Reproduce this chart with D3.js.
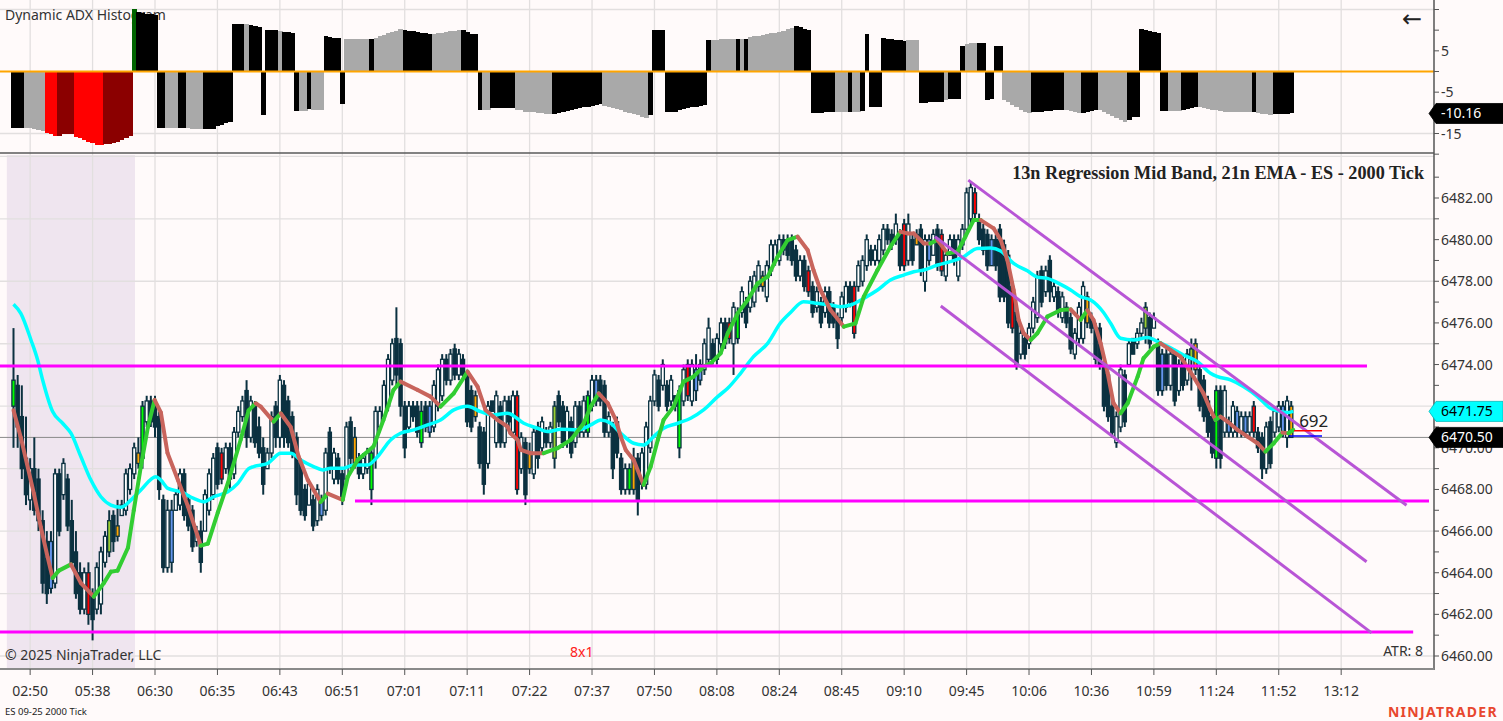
<!DOCTYPE html>
<html><head><meta charset="utf-8">
<script src="https://cdn.jsdelivr.net/npm/d3@7"></script>
<style>
html,body{margin:0;padding:0;background:#fffafa;overflow:hidden}
svg{display:block}
text{font-family:"Noto Sans","Open Sans",sans-serif}
</style></head><body>
<svg id="chart" width="1503" height="721"></svg>
<script>
// ---------------- DATA ----------------
const highs = [
6475.75,6473.5,6473.0,6471.5,6469.5,6470.5,6469.0,6467.0,6466.0,6466.0,
6469.0,6469.0,6469.5,6468.75,6467.5,6466.0,6464.5,6464.25,6464.5,6463.25,
6464.5,6465.25,6466.0,6467.0,6467.0,6467.5,6467.5,6469.0,6469.25,6470.25,
6470.5,6472.25,6472.5,6472.5,6472.5,6471.75,6467.75,6467.5,6467.5,6468.0,
6469.0,6469.0,6467.75,6467.25,6466.25,6466.5,6468.0,6469.0,6469.75,6470.25,
6470.0,6470.25,6470.25,6471.0,6472.0,6472.5,6473.25,6472.5,6472.25,6471.5,
6470.5,6470.0,6471.75,6472.25,6473.5,6473.25,6472.5,6471.75,6470.75,6469.5,
6468.25,6468.5,6467.75,6468.25,6467.75,6470.0,6471.0,6470.0,6469.75,6469.0,
6471.25,6471.5,6471.0,6469.75,6469.75,6470.0,6470.0,6472.0,6472.0,6473.25,
6474.5,6475.25,6476.75,6475.25,6472.25,6472.25,6472.25,6472.25,6472.25,6472.25,
6472.25,6473.25,6474.0,6474.5,6474.5,6474.75,6475.0,6474.75,6474.5,6473.75,
6473.0,6472.75,6471.25,6471.0,6472.25,6472.25,6472.75,6472.25,6472.5,6472.5,
6472.75,6472.75,6470.75,6470.5,6470.25,6471.0,6471.25,6471.5,6471.0,6471.25,
6472.25,6472.75,6472.25,6472.0,6471.5,6472.25,6472.25,6472.5,6472.75,6473.5,
6473.5,6473.5,6473.25,6471.75,6471.25,6471.5,6469.75,6469.25,6469.25,6470.0,
6469.75,6470.0,6471.25,6472.5,6473.75,6473.5,6474.25,6473.25,6473.5,6472.5,
6473.0,6474.0,6474.25,6474.25,6474.5,6474.25,6475.25,6476.25,6475.25,6475.5,
6476.25,6476.25,6476.25,6477.0,6476.75,6477.75,6477.25,6478.25,6478.5,6479.0,
6478.5,6479.0,6480.0,6480.0,6480.25,6480.25,6480.25,6480.25,6479.75,6479.25,
6479.25,6478.75,6478.0,6477.75,6477.25,6477.75,6477.75,6477.0,6476.5,6477.5,
6478.0,6478.0,6478.0,6479.0,6479.25,6480.25,6479.75,6479.75,6480.25,6480.75,
6480.75,6480.5,6481.25,6480.5,6481.0,6481.25,6480.25,6480.5,6480.75,6480.25,
6480.25,6480.5,6480.75,6480.5,6479.5,6480.25,6480.25,6480.25,6480.75,6482.5,
6482.75,6482.5,6481.25,6480.75,6480.5,6480.25,6480.25,6480.75,6480.0,6479.5,
6478.0,6476.75,6475.75,6475.5,6476.0,6477.25,6478.5,6478.75,6478.75,6479.25,
6478.0,6477.75,6477.5,6477.0,6476.5,6475.75,6477.0,6478.0,6477.5,6476.5,
6476.0,6476.0,6474.25,6473.75,6472.25,6471.75,6474.0,6473.75,6475.25,6475.25,
6475.75,6476.25,6477.0,6476.5,6476.5,6475.25,6474.75,6474.75,6474.75,6474.75,
6474.25,6474.5,6474.75,6475.25,6475.25,6474.0,6473.5,6472.5,6471.75,6473.0,
6473.0,6473.0,6471.5,6472.25,6472.0,6471.75,6471.75,6471.75,6472.25,6471.0,
6470.75,6471.25,6471.5,6472.0,6472.25,6472.25,6472.5,6472.25];
const lows = [
6470.0,6470.0,6468.5,6467.25,6467.0,6466.75,6466.0,6463.0,6462.5,6463.0,
6463.25,6465.75,6467.5,6466.0,6464.25,6462.75,6462.0,6462.0,6461.5,6460.75,
6462.0,6462.0,6464.25,6464.75,6465.0,6465.5,6466.75,6466.75,6467.75,6468.5,
6469.0,6469.0,6471.0,6471.0,6470.5,6467.5,6464.0,6464.0,6464.0,6467.0,
6467.0,6466.5,6466.0,6465.0,6465.25,6464.0,6466.0,6466.75,6467.5,6468.0,
6468.25,6468.75,6468.0,6468.5,6470.5,6471.25,6470.0,6470.25,6470.0,6469.5,
6467.75,6469.0,6469.5,6470.0,6470.0,6470.0,6470.0,6469.5,6467.25,6466.75,
6466.5,6467.25,6466.0,6466.25,6466.5,6466.75,6468.75,6468.25,6468.25,6467.25,
6468.25,6469.0,6469.0,6468.5,6468.5,6468.75,6467.25,6469.0,6470.75,6471.25,
6471.75,6473.0,6473.0,6471.5,6469.5,6470.75,6471.25,6470.5,6470.0,6470.75,
6470.5,6470.75,6471.75,6472.25,6473.0,6473.0,6473.25,6473.25,6473.25,6471.0,
6470.75,6471.25,6469.0,6467.75,6469.0,6471.75,6470.0,6470.0,6470.0,6471.0,
6470.5,6467.75,6468.75,6467.25,6468.75,6468.5,6469.0,6469.75,6470.0,6470.0,
6469.0,6471.0,6470.0,6470.0,6469.5,6470.0,6470.5,6470.5,6470.5,6471.75,
6472.0,6472.0,6470.5,6470.5,6468.5,6469.5,6467.75,6467.75,6467.75,6467.75,
6466.75,6468.0,6468.0,6469.75,6472.0,6471.75,6472.75,6471.75,6472.0,6471.75,
6469.5,6472.0,6472.25,6472.0,6472.25,6473.0,6473.5,6474.0,6474.0,6474.0,
6474.75,6474.75,6475.0,6473.5,6475.0,6476.25,6475.75,6476.5,6476.75,6477.5,
6477.5,6477.0,6478.25,6478.75,6478.75,6479.25,6479.0,6478.75,6478.0,6478.0,
6477.5,6477.25,6476.25,6476.5,6475.75,6476.25,6475.75,6475.75,6474.75,6476.0,
6476.5,6476.75,6475.25,6477.5,6477.75,6478.5,6478.75,6478.75,6478.75,6479.25,
6479.75,6479.5,6479.75,6478.5,6478.5,6478.75,6478.75,6479.75,6478.25,6477.5,
6478.75,6479.25,6478.5,6478.25,6478.0,6479.25,6478.75,6478.0,6479.5,6480.25,
6480.75,6481.0,6479.75,6479.25,6478.5,6478.75,6478.5,6477.0,6477.0,6475.75,
6475.5,6473.75,6474.25,6474.25,6474.75,6475.5,6476.0,6476.75,6477.25,6477.0,
6477.0,6476.25,6476.0,6475.75,6474.5,6474.25,6475.0,6475.0,6475.75,6475.5,
6474.0,6473.75,6471.75,6471.25,6470.5,6470.0,6470.75,6471.0,6474.0,6474.5,
6474.75,6475.25,6475.0,6474.75,6475.75,6472.5,6472.5,6472.75,6472.75,6472.0,
6472.5,6472.75,6473.0,6472.75,6473.5,6471.75,6471.25,6470.5,6469.5,6469.0,
6469.0,6470.5,6470.5,6470.5,6470.5,6470.5,6470.5,6470.5,6470.5,6469.75,
6468.5,6468.75,6469.0,6470.5,6470.75,6470.5,6470.0,6470.5];
const opens = [
6472.0,6473.0,6471.5,6469.5,6467.5,6469.0,6468.5,6466.5,6465.5,6463.25,
6463.5,6468.75,6467.75,6468.5,6466.5,6465.0,6464.0,6462.25,6464.0,6463.0,
6462.25,6462.5,6464.5,6465.0,6466.75,6465.75,6466.75,6467.0,6468.0,6468.75,
6469.25,6469.5,6471.25,6472.25,6472.0,6471.5,6467.5,6464.25,6467.0,6467.0,
6467.25,6468.75,6467.5,6467.0,6465.5,6466.0,6466.0,6467.0,6467.75,6470.0,
6469.75,6469.0,6470.0,6468.75,6470.75,6471.5,6472.75,6470.5,6472.0,6471.0,
6470.0,6469.0,6469.75,6472.0,6470.5,6473.0,6472.25,6471.5,6470.5,6469.25,
6468.0,6467.25,6467.5,6466.5,6467.5,6467.0,6470.75,6468.5,6469.5,6468.75,
6468.5,6471.25,6469.25,6469.5,6468.75,6469.0,6468.0,6469.5,6471.0,6471.5,
6472.0,6473.25,6475.25,6475.0,6472.0,6471.0,6472.0,6472.0,6470.25,6472.0,
6470.75,6471.0,6472.0,6472.5,6474.25,6473.25,6474.75,6473.5,6474.25,6473.5,
6472.75,6471.5,6471.0,6470.75,6469.25,6472.25,6470.25,6472.0,6470.25,6472.25,
6470.75,6472.5,6469.0,6470.25,6469.0,6468.75,6471.0,6470.0,6470.75,6470.25,
6469.5,6472.5,6472.0,6470.25,6471.25,6470.25,6472.0,6470.75,6470.75,6472.0,
6473.25,6473.25,6473.0,6470.75,6471.0,6471.25,6469.5,6468.0,6468.0,6468.0,
6469.5,6468.25,6468.25,6470.0,6472.25,6473.25,6473.0,6473.0,6472.25,6472.5,
6470.0,6472.25,6474.0,6472.25,6473.75,6473.25,6473.75,6474.25,6475.0,6474.25,
6475.0,6476.0,6476.0,6475.0,6475.25,6476.5,6477.0,6476.75,6477.0,6477.75,
6477.75,6477.25,6478.5,6479.0,6479.0,6480.0,6480.0,6480.0,6479.5,6478.25,
6479.0,6478.5,6477.75,6476.75,6477.0,6476.5,6477.5,6476.75,6476.25,6476.25,
6476.75,6477.75,6477.75,6477.75,6478.0,6478.75,6479.5,6479.0,6479.0,6479.5,
6480.5,6480.25,6480.0,6480.25,6480.75,6479.0,6480.0,6479.75,6480.5,6478.0,
6480.0,6479.25,6480.5,6480.25,6478.25,6479.25,6480.0,6478.25,6479.75,6480.5,
6481.0,6482.25,6481.0,6480.5,6480.25,6478.75,6480.0,6480.5,6479.75,6479.25,
6477.75,6476.5,6474.5,6475.25,6475.0,6475.75,6476.25,6478.5,6477.5,6479.0,
6477.25,6477.5,6476.25,6476.75,6476.25,6474.5,6475.25,6475.25,6477.25,6476.25,
6475.75,6475.75,6474.0,6473.5,6472.0,6470.25,6471.0,6473.5,6474.0,6475.25,
6475.0,6475.5,6475.75,6476.25,6475.75,6475.0,6472.75,6474.5,6473.0,6474.5,
6472.75,6474.25,6473.25,6474.25,6475.0,6473.75,6473.25,6472.25,6471.5,6469.5,
6472.75,6470.75,6471.25,6470.75,6471.75,6470.75,6471.5,6470.75,6472.0,6470.75,
6470.5,6469.0,6471.25,6470.75,6471.0,6472.0,6470.5,6472.0];
const closes = [
6473.25,6471.0,6469.0,6467.75,6469.0,6467.0,6466.5,6463.5,6463.0,6465.5,
6468.75,6466.0,6469.25,6466.25,6464.5,6463.0,6462.25,6464.0,6462.0,6461.75,
6464.25,6465.0,6465.75,6466.5,6465.5,6466.25,6467.25,6468.75,6469.0,6470.0,
6469.75,6472.0,6472.25,6471.25,6471.0,6468.0,6464.25,6467.0,6464.5,6467.75,
6468.75,6466.75,6466.25,6465.25,6466.0,6464.5,6467.75,6468.75,6469.5,6468.25,
6468.5,6470.0,6468.5,6470.75,6471.75,6472.25,6470.5,6472.25,6470.25,6469.75,
6468.25,6469.75,6471.5,6470.5,6473.25,6470.5,6470.25,6469.75,6467.75,6467.0,
6466.75,6468.25,6466.25,6468.0,6466.75,6469.75,6469.0,6469.75,6468.5,6467.5,
6471.0,6469.5,6470.5,6468.75,6469.5,6469.75,6469.75,6471.75,6471.75,6473.0,
6474.25,6475.0,6473.5,6472.0,6470.0,6472.0,6471.5,6470.75,6471.75,6471.0,
6472.0,6473.0,6473.75,6474.25,6473.25,6474.5,6473.5,6474.5,6473.5,6471.25,
6471.0,6472.5,6469.25,6468.25,6472.0,6471.75,6472.5,6470.25,6472.25,6471.25,
6472.5,6468.0,6470.5,6467.75,6469.75,6470.75,6469.5,6471.25,6470.25,6471.0,
6472.0,6471.25,6470.25,6471.75,6469.75,6472.0,6470.75,6472.25,6472.5,6473.25,
6472.25,6472.25,6470.75,6471.5,6469.0,6469.75,6468.0,6469.0,6469.0,6469.5,
6467.5,6469.75,6471.0,6472.25,6473.5,6472.0,6474.0,6472.0,6473.25,6472.0,
6472.75,6473.75,6472.5,6474.0,6472.75,6474.0,6475.0,6475.75,6474.25,6475.25,
6476.0,6475.0,6475.25,6476.75,6476.5,6477.5,6476.0,6478.0,6478.25,6478.75,
6478.25,6478.75,6479.75,6479.75,6480.0,6479.5,6479.25,6479.0,6478.25,6479.0,
6477.75,6477.5,6476.5,6477.5,6476.0,6477.5,6476.0,6476.0,6475.25,6477.25,
6477.75,6477.0,6475.5,6478.75,6479.0,6480.0,6479.0,6479.5,6480.0,6480.5,
6480.0,6479.75,6480.75,6478.75,6478.75,6480.75,6479.0,6480.25,6478.5,6480.0,
6479.0,6480.25,6478.75,6478.5,6479.25,6480.0,6479.0,6480.0,6480.5,6482.25,
6482.5,6481.25,6480.0,6479.5,6478.75,6480.0,6478.75,6477.25,6477.25,6476.0,
6475.75,6474.0,6475.5,6474.5,6475.75,6477.0,6478.25,6477.0,6478.5,6477.5,
6477.75,6476.5,6477.25,6476.0,6474.75,6475.5,6476.75,6477.75,6476.0,6475.75,
6474.25,6474.0,6472.0,6471.5,6470.75,6471.5,6473.75,6471.25,6475.0,6474.5,
6475.5,6476.0,6476.75,6475.0,6476.25,6472.75,6474.5,6473.0,6474.5,6472.25,
6474.0,6473.0,6474.5,6474.75,6473.75,6472.0,6471.5,6470.75,6469.75,6472.75,
6469.5,6472.75,6470.75,6472.0,6470.75,6471.5,6470.75,6471.5,6470.75,6470.0,
6469.0,6471.0,6469.25,6471.75,6472.0,6470.75,6472.25,6470.5];

// painted candle bodies (bar index, colour key)
const paintBars = [0,9,18,23,25,30,31,38,50,74,82,86,98,100,111,121,124,130,138,140,148,149,160,162,164,165,172,174,180,191,202,214,217,220,223,231,235,240,258,272,276,283,284,289,292,294,296,298,305,307];
const paintKeys = ["L","B","R","Y","O","O","L","B","R","B","O","L","L","B","O","R","O","Y","L","B","L","O","L","R","B","B","R","L","O","R","R","R","O","B","R","R","B","R","O","Y","B","Y","O","L","B","B","B","R","B","O"];

// 13n regression mid band (knots: bar, value)
const regBars = [0,1.75,4.9,6.55,8.2,9.4,10.9,13.8,16.2,19.3,21.7,23.4,25,27.5,28.9,30.6,32.3,33.9,35.4,37,39.5,41.9,45,46.7,49.1,51.5,54.6,56.5,58.2,59.4,62.5,64.2,66.6,68.5,70.7,73.8,75.5,79.1,80.3,82.7,86.5,88.9,91.3,93,97.1,100.2,102.6,105.8,109.1,111.5,113.4,116.3,118.7,119.4,121.1,121.9,124.3,127.4,130.7,133.9,137,138.7,140.6,142.8,144.7,145.9,147.1,149,151.4,153.1,154.8,156.2,158.6,161,163.4,165.8,167.5,169.9,171.6,174,176.4,178.8,181.2,183.6,186,188.4,190.8,192.2,193.9,196.3,199.5,202.3,204.3,207.6,210.7,213.1,214.8,216.3,218.7,220.3,222,224.4,226.8,228.7,230.7,232.4,235.5,237.2,238.8,240.3,241.5,242.7,244.4,246,248.4,251.6,254,256.4,258,259.5,261.2,262.9,264.3,266,267.7,270.1,271.5,274,275.6,278,280.4,283.5,285.9,287.6,288.8,290,291.7,294.1,296.5,298.9,300.8,302.8,304.9,306.3,307.5];
const regVals = [6471.8,6470.5,6467.8,6466.2,6464.75,6463.75,6464.1,6464.4,6463.5,6462.85,6463.5,6464.05,6464.1,6465.2,6467.0,6469.1,6471.0,6472.3,6471.7,6469.75,6468.45,6467.2,6465.3,6465.4,6466.9,6468.3,6470.4,6471.8,6472.14,6471.98,6471.26,6471.66,6471.0,6469.58,6468.46,6467.4,6467.8,6467.5,6468.6,6469.42,6470.06,6471.34,6472.78,6473.18,6472.78,6472.46,6471.98,6472.62,6473.66,6472.94,6471.82,6471.34,6471.02,6470.7,6470.38,6469.9,6469.74,6469.74,6469.98,6470.38,6471.18,6471.98,6472.62,6472.14,6471.34,6470.54,6469.9,6469.42,6468.22,6469.1,6470.38,6471.34,6471.98,6473.18,6473.42,6473.9,6474.06,6474.54,6475.5,6476.46,6477.1,6477.9,6478.22,6479.18,6479.98,6480.14,6479.5,6478.54,6477.58,6476.62,6475.82,6475.98,6477.26,6478.54,6479.66,6480.38,6480.3,6480.3,6479.82,6479.82,6479.98,6479.34,6479.42,6480.14,6480.94,6480.94,6480.54,6479.98,6479.02,6477.58,6476.14,6475.5,6475.18,6475.5,6476.3,6476.62,6476.65,6476.14,6476.62,6476.14,6475.02,6473.58,6472.14,6471.66,6472.14,6473.42,6474.3,6474.86,6475.02,6474.7,6474.38,6473.42,6472.62,6471.82,6471.34,6471.5,6471.26,6470.86,6470.54,6470.22,6469.82,6470.22,6470.73,6470.7,6470.86];

// 21n EMA (knots: bar, value)
const emaBars = [0,1.75,4.2,5.8,7.0,9.4,11.8,13.8,16.2,18.6,21.0,23.4,25.8,28.2,30.6,34.2,35.4,37.1,40.2,43.3,45.7,48.1,51.5,53.9,56.5,57.7,61.1,64.2,66.6,69.0,72.1,74.3,76.2,79.3,81.7,85.1,87.5,90.6,93.0,96.2,99.5,102.6,105.8,109.1,112.2,115.4,118.7,122.6,125.9,128.3,131.5,135.5,138.7,141.1,143.5,145.9,149.0,151.4,153.8,156.2,159.6,162.7,165.8,169.2,171.6,174.7,177.8,181.2,184.3,186.7,189.8,193.2,196.3,198.7,201.1,204.3,207.6,210.7,213.9,216.3,218.7,222.0,225.1,228.3,231.6,234.8,237.2,240.3,243.6,246.0,248.4,251.6,254.0,256.4,258.8,261.9,263.6,266.0,269.1,272.5,274.9,278.0,281.1,284.5,287.6,289.3,292.4,295.5,298.9,302.0,304.4,306.3,307.5];
const emaVals = [6476.9,6476.46,6475.18,6474.22,6473.26,6471.74,6471.18,6470.7,6469.57,6468.45,6467.65,6467.25,6467.14,6467.49,6467.97,6468.61,6468.45,6468.05,6467.89,6467.57,6467.41,6467.65,6467.89,6468.29,6469.0,6469.1,6469.26,6469.74,6469.74,6469.42,6469.1,6468.94,6469.02,6469.02,6469.18,6469.18,6469.58,6470.38,6470.7,6470.86,6471.1,6471.34,6471.82,6472.0,6471.74,6471.58,6471.66,6471.18,6470.94,6470.78,6470.89,6470.86,6471.1,6471.34,6471.18,6470.7,6470.22,6470.14,6470.54,6470.94,6471.18,6471.42,6471.82,6472.46,6472.86,6473.58,6474.38,6475.02,6476.0,6476.5,6477.02,6476.94,6476.86,6476.78,6476.86,6477.18,6477.58,6478.06,6478.3,6478.46,6478.54,6478.78,6478.94,6479.18,6479.58,6479.6,6479.45,6478.86,6478.5,6478.2,6478.14,6477.85,6477.58,6477.26,6477.1,6476.5,6475.98,6475.26,6475.18,6475.3,6475.1,6474.8,6474.46,6474.14,6473.58,6473.42,6473.26,6472.94,6472.46,6471.9,6471.74,6471.7,6471.75];

// Dynamic ADX histogram (one value per bar) and colour keys
const histVals = [
-13.6,-13.6,-13.6,-13.6,-13.7,-13.9,-14.2,-14.5,-14.8,-15.2,
-15.7,-15.7,-15.2,-15.2,-15.2,-15.8,-16.2,-16.6,-17.0,-17.4,
-17.8,-17.8,-17.6,-17.6,-17.4,-17.0,-16.6,-16.2,-15.7,15.2,
14.4,14.2,14.0,13.8,13.6,-13.6,-13.6,-13.6,-13.6,-13.6,
-13.6,-13.6,-13.7,-13.8,-13.8,-13.8,-13.9,-13.9,-13.9,-13.3,
-12.9,-12.5,-12.1,11.6,11.6,11.6,11.4,11.2,11.0,10.7,
-10.6,10.0,10.0,10.0,9.8,9.6,9.5,9.4,-9.45,-9.45,
-9.45,-9.1,-9.3,-9.3,-9.3,8.6,8.4,8.2,8.0,-7.9,
7.8,7.8,7.8,7.8,7.8,7.8,7.8,8.2,8.5,8.8,
9.2,9.5,9.9,10.2,10.0,9.9,9.8,9.6,9.4,9.3,
9.1,9.1,9.2,9.4,9.5,9.7,9.8,10.0,10.0,9.6,
9.1,9.1,-9.4,-9.3,-9.3,-8.9,-8.9,-8.9,-8.9,-8.9,
-8.9,-9.3,-9.3,-9.7,-9.8,-9.9,-10.0,-10.1,-10.2,-10.3,
-10.3,-10.1,-9.8,-9.5,-9.3,-9.0,-8.8,-8.7,-8.5,-8.3,
-8.1,-7.9,-8.3,-8.6,-8.9,-9.1,-9.4,-9.7,-10.0,-10.3,
-10.6,-10.9,-11.2,-10.6,10.0,10.0,10.0,-9.9,-9.9,-9.9,
-9.3,-9.1,-8.9,-8.7,-8.5,-8.3,-8.1,7.6,7.6,7.7,
7.8,7.9,7.9,7.9,7.9,7.9,7.9,8.3,8.5,8.7,
8.8,9.0,9.2,9.4,9.6,9.8,10.2,10.6,10.9,10.7,
10.4,10.0,-10.1,-10.1,-10.1,-9.7,-9.7,-9.7,-9.9,-9.9,
-9.9,-9.7,-9.8,-9.8,-9.5,9.0,-8.7,-8.7,-8.6,8.0,
7.9,7.8,7.7,7.6,7.5,7.6,7.6,7.6,-7.5,-7.5,
-7.3,-7.3,-7.3,-7.3,-7.0,-6.75,-6.75,-6.75,6.2,6.6,
6.8,7.0,7.0,7.0,-6.8,-6.6,6.2,6.2,-6.9,-7.4,
-8.0,-8.6,-9.2,-9.8,-10.0,-9.9,-9.8,-9.7,-9.6,-9.5,
-9.4,-9.3,-9.3,-9.3,-9.6,-9.8,-10.1,-10.1,-9.8,-9.5,
-9.3,-9.3,-9.8,-10.3,-10.8,-11.3,-11.8,-12.1,-11.7,-11.1,
-11.1,10.2,10.0,9.8,9.6,9.4,-9.5,-9.5,-9.5,-9.5,
-9.5,-9.2,-9.0,-8.8,-8.6,-8.6,-8.8,-9.0,-9.2,-9.4,
-9.5,-9.7,-9.9,-9.9,-9.9,-9.9,-9.9,-9.9,-9.9,-10.0,
-10.2,-10.4,-10.5,-10.3,-10.3,-10.3,-10.2,-10.16];
const histKeys = ("kkkgggggrr"+"rddddrrrrr"+"rrdddddddG"+"kkkkkkkggg"+"kkggggkkkk"+
  "kkkkkkgkkk"+"kkkkgkkkkg"+"gkgggkkkkk"+"ggggggkggg"+"ggggkkkkkk"+
  "kgggggggkk"+"kkkggkkkkk"+"kggggggggg"+"kkkkkkkkkk"+"kkgggggggg"+
  "gggkkkkkkk"+"kkkkkkkkgg"+"ggggkgkggg"+"ggggggggkk"+"kkkkkkkkgg"+
  "gkggkkkkkk"+"kkkkkgggkk"+"kkkkgkkkkg"+"ggkkkkkkgg"+"gggggkkkkk"+
  "kkkggggkkk"+"kgggggggkk"+"kkkkkkkkgg"+"gkkkkggggg"+"ggggggggkg"+
  "gggkkkkk").split("");

// time axis labels (every 15 bars starting at bar 4)
const timeLabels = ["02:50","05:38","06:30","06:35","06:43","06:51","07:01","07:11","07:22","07:37","07:50","08:08","08:24","08:45","09:10","09:45","10:06","10:36","10:59","11:24","11:52","13:12"];
const timeLabelFirstBar = 4, timeLabelStep = 15;

// horizontal drawing levels (price, from bar, to bar)
const levelPrices = [6473.93, 6467.45, 6461.15];
const levelFrom = [-4, 82.05, -4];
const levelTo = [325.2, 340.1, 336.3];

// regression channel lines (start bar, start price, end bar, end price)
const chanFromBar = [229.4, 221.4, 222.8];
const chanFromPrice = [6482.86, 6480.14, 6476.81];
const chanToBar = [334.7, 325.1, 326.3];
const chanToPrice = [6467.24, 6464.53, 6461.11];

// session shading (bars)
const sessionFrom = -1.6, sessionTo = 29.2;

const lastPrice = 6470.50, emaLast = 6471.75, histLast = -10.16;
const priceTicks = d3.range(6460, 6484, 1);
const priceLabels = [6460, 6462, 6464, 6466, 6468, 6470, 6474, 6476, 6478, 6480, 6482]; // 6472 sits under the EMA marker
const priceGrid = d3.range(6460, 6486, 3);
const histTicks = [15, 10, 5, 0, -5, -10, -15, -20];
const histLabels = [5, -5, -15];

// ---------------- DRAW ----------------
const svg = d3.select("#chart");
const AX = 1434;                 // right axis x
const MAIN_TOP = 154, MAIN_BOT = 669, TOP_BOT = 153;
const dx = 4.162;
const x = d3.scaleLinear().domain([0, 307]).range([13.5, 13.5 + 307 * dx]);
const yP = d3.scaleLinear().domain([6460, 6482]).range([656, 198]);
const yH = d3.scaleLinear().domain([-15, 15]).range([133.5, 9.5]);
const OUT = "#0b3140";
const paintCol = {L:"#00ff00", B:"#6495ed", R:"#ff0000", Y:"#9acd32", O:"#ffa500"};
const histCol = {k:"#000000", g:"#a9a9a9", r:"#ff0000", d:"#8b0000", G:"#006400"};

svg.append("rect").attr("width",1503).attr("height",721).attr("fill","#fffafa");

const defs = svg.append("defs");
defs.append("clipPath").attr("id","clipMain").append("rect")
  .attr("x",0).attr("y",MAIN_TOP).attr("width",AX).attr("height",MAIN_BOT-MAIN_TOP);
defs.append("clipPath").attr("id","clipTop").append("rect")
  .attr("x",0).attr("y",0).attr("width",AX).attr("height",TOP_BOT);

// session shading
svg.append("rect").attr("x", x(sessionFrom)).attr("y", MAIN_TOP+1)
  .attr("width", x(sessionTo)-x(sessionFrom)).attr("height", MAIN_BOT-MAIN_TOP-1)
  .attr("fill","#efe5ef");

// vertical grid
const tlBars = timeLabels.map((d,i)=>timeLabelFirstBar + i*timeLabelStep);
svg.append("g").selectAll("line").data(tlBars).join("line")
  .attr("x1",d=>x(d)).attr("x2",d=>x(d)).attr("y1",0).attr("y2",MAIN_BOT)
  .attr("stroke","#e2dfdf").attr("stroke-width",1.3);
// horizontal grid main
svg.append("g").selectAll("line").data(priceGrid).join("line")
  .attr("x1",0).attr("x2",AX).attr("y1",d=>yP(d)).attr("y2",d=>yP(d))
  .attr("stroke","#e2dfdf").attr("stroke-width",1.3);
// horizontal grid top
svg.append("g").selectAll("line").data([15,-15]).join("line")
  .attr("x1",0).attr("x2",AX).attr("y1",d=>yH(d)).attr("y2",d=>yH(d))
  .attr("stroke","#e2dfdf").attr("stroke-width",1.3);

// ---- top panel ----
svg.append("text").attr("x",5).attr("y",20).style("font-size","14px").attr("fill","#333")
  .text("Dynamic ADX Histogram");
const gTop = svg.append("g").attr("clip-path","url(#clipTop)").attr("shape-rendering","crispEdges");
gTop.selectAll("rect").data(histVals).join("rect")
  .attr("x",(d,i)=>x(i)-dx/2).attr("width",dx+0.6)
  .attr("y",d=>Math.min(yH(0),yH(d))).attr("height",d=>Math.abs(yH(d)-yH(0)))
  .attr("fill",(d,i)=>histCol[histKeys[i]]);
svg.append("line").attr("x1",0).attr("x2",AX).attr("y1",yH(0)).attr("y2",yH(0))
  .attr("stroke","#ffa500").attr("stroke-width",2);
svg.append("text").attr("x",1412).attr("y",27).attr("text-anchor","middle")
  .style("font-family","'DejaVu Sans',sans-serif").style("font-size","24px").attr("fill","#222").text("←");

// separator
svg.append("line").attr("x1",0).attr("x2",AX).attr("y1",TOP_BOT).attr("y2",TOP_BOT)
  .attr("stroke","#5a5a5a").attr("stroke-width",1.5);

// ---- main panel ----
const gMain = svg.append("g").attr("clip-path","url(#clipMain)");

// current price line
gMain.append("line").attr("x1",0).attr("x2",AX).attr("y1",yP(lastPrice)).attr("y2",yP(lastPrice))
  .attr("stroke","#8a8a8a").attr("stroke-width",1);

// candles
const paintMap = new Map(paintBars.map((b,i)=>[b,paintKeys[i]]));
const idx = d3.range(highs.length);
const gC = gMain.append("g");
gC.selectAll("line").data(idx).join("line")
  .attr("x1",i=>x(i)).attr("x2",i=>x(i))
  .attr("y1",i=>yP(highs[i])).attr("y2",i=>yP(lows[i]))
  .attr("stroke",OUT).attr("stroke-width",2);
gC.selectAll("rect").data(idx).join("rect")
  .attr("x",i=>x(i)-1.6).attr("width",3.2)
  .attr("y",i=>yP(Math.max(opens[i],closes[i])))
  .attr("height",i=>Math.max(1.5, Math.abs(yP(opens[i])-yP(closes[i]))))
  .attr("fill",i=>paintMap.has(i) ? paintCol[paintMap.get(i)] : (closes[i]>=opens[i] ? "#ffffff" : OUT))
  .attr("stroke",OUT).attr("stroke-width",1.3);

// EMA
const emaPts = emaBars.map((b,i)=>[b, emaVals[i]]);
gMain.append("path").datum(emaPts)
  .attr("d", d3.line().x(d=>x(d[0])).y(d=>yP(d[1])).curve(d3.curveMonotoneX))
  .attr("fill","none").attr("stroke","#00ffff").attr("stroke-width",3.5)
  .attr("stroke-linejoin","round");

// regression mid band coloured by slope
const segs = [];
let lastUp = false;
for (let i=0;i<regBars.length-1;i++){
  const dv = regVals[i+1]-regVals[i];
  const up = dv>0 ? true : dv<0 ? false : lastUp;
  lastUp = up;
  segs.push({a:[regBars[i],regVals[i]], b:[regBars[i+1],regVals[i+1]], up});
}
gMain.append("g").selectAll("line").data(segs).join("line")
  .attr("x1",d=>x(d.a[0])).attr("y1",d=>yP(d.a[1]))
  .attr("x2",d=>x(d.b[0])).attr("y2",d=>yP(d.b[1]))
  .attr("stroke",d=>d.up ? "#32cd32" : "#c8645c").attr("stroke-width",4)
  .attr("stroke-linecap","round");

// magenta levels
gMain.append("g").selectAll("line").data(levelPrices).join("line")
  .attr("x1",(d,i)=>x(levelFrom[i])).attr("x2",(d,i)=>x(levelTo[i]))
  .attr("y1",d=>yP(d)).attr("y2",d=>yP(d))
  .attr("stroke","#ff00ff").attr("stroke-width",3);

// channel
gMain.append("g").selectAll("line").data(chanFromBar).join("line")
  .attr("x1",(d,i)=>x(chanFromBar[i])).attr("y1",(d,i)=>yP(chanFromPrice[i]))
  .attr("x2",(d,i)=>x(chanToBar[i])).attr("y2",(d,i)=>yP(chanToPrice[i]))
  .attr("stroke","#b855d6").attr("stroke-width",3);

// small bid/ask markers and tick counter
gMain.append("line").attr("x1",x(307.7)).attr("x2",x(314.4)).attr("y1",yP(6470.82)).attr("y2",yP(6470.82))
  .attr("stroke","#ff0000").attr("stroke-width",1.5);
gMain.append("line").attr("x1",x(306.5)).attr("x2",x(314.4)).attr("y1",yP(6470.57)).attr("y2",yP(6470.57))
  .attr("stroke","#0000ff").attr("stroke-width",1.5);
svg.append("text").attr("x",x(308.9)).attr("y",yP(6471.0)).style("font-size","17px").attr("fill","#222").text("692");

// title
svg.append("text").attr("x",1424).attr("y",179).attr("text-anchor","end")
  .style("font-family","'Liberation Serif','DejaVu Serif',serif").style("font-weight","bold")
  .style("font-size","18.2px").attr("fill","#222")
  .text("13n Regression Mid Band, 21n EMA - ES - 2000 Tick");

// bottom texts in panel
svg.append("text").attr("x",5).attr("y",660).style("font-size","14px").attr("fill","#333").text("© 2025 NinjaTrader, LLC");
svg.append("text").attr("x",570).attr("y",657).style("font-size","14px").attr("fill","#ff2020").text("8x1");
svg.append("text").attr("x",1423).attr("y",656).attr("text-anchor","end").style("font-size","14px").attr("fill","#333").text("ATR: 8");

// ---- axes ----
svg.append("line").attr("x1",AX).attr("x2",AX).attr("y1",0).attr("y2",MAIN_BOT+1)
  .attr("stroke","#555").attr("stroke-width",1.5);
svg.append("line").attr("x1",0).attr("x2",AX).attr("y1",MAIN_BOT).attr("y2",MAIN_BOT)
  .attr("stroke","#8a8a8a").attr("stroke-width",2);

// price ticks/labels
svg.append("g").selectAll("line").data(priceTicks).join("line")
  .attr("x1",AX).attr("x2",AX+5).attr("y1",d=>yP(d)).attr("y2",d=>yP(d))
  .attr("stroke","#555").attr("stroke-width",1);
svg.append("g").selectAll("text").data(priceLabels).join("text")
  .attr("x",AX+7).attr("y",d=>yP(d)+5).style("font-size","14px").attr("fill","#333")
  .text(d=>d3.format(".2f")(d));
// hist ticks/labels
svg.append("g").selectAll("line").data(histTicks).join("line")
  .attr("x1",AX).attr("x2",AX+5).attr("y1",d=>yH(d)).attr("y2",d=>yH(d))
  .attr("stroke","#555").attr("stroke-width",1);
svg.append("g").selectAll("text").data(histLabels).join("text")
  .attr("x",AX+7).attr("y",d=>yH(d)+5).style("font-size","14px").attr("fill","#333")
  .text(d=>String(d));

// value boxes
function valueBox(yc, fill, txtCol, label){
  const h = 10;
  svg.append("path")
    .attr("d",`M${AX-5},${yc} L${AX+2},${yc-h} L1503,${yc-h} L1503,${yc+h} L${AX+2},${yc+h} Z`)
    .attr("fill",fill).attr("stroke", fill==="#00ffff" ? "#00b8b8" : "#000").attr("stroke-width",0.8);
  svg.append("text").attr("x",AX+7).attr("y",yc+5).style("font-size","14px").attr("fill",txtCol).text(label);
}
valueBox(yP(emaLast), "#00ffff", "#000", d3.format(".2f")(emaLast));
valueBox(yP(lastPrice), "#000000", "#fff", d3.format(".2f")(lastPrice));
valueBox(yH(histLast), "#000000", "#fff", String(histLast));

// time axis
svg.append("g").selectAll("line").data(tlBars).join("line")
  .attr("x1",d=>x(d)).attr("x2",d=>x(d)).attr("y1",MAIN_BOT).attr("y2",MAIN_BOT+6)
  .attr("stroke","#555").attr("stroke-width",1);
svg.append("g").selectAll("text").data(timeLabels).join("text")
  .attr("x",(d,i)=>x(tlBars[i])).attr("y",696).attr("text-anchor","middle")
  .style("font-size","14px").attr("fill","#333").text(d=>d);

svg.append("text").attr("x",5).attr("y",715).style("font-size","9.5px").attr("fill","#222").text("ES 09-25 2000 Tick");
svg.append("text").attr("x",1498).attr("y",717).attr("text-anchor","end")
  .style("font-size","14px").style("font-weight","bold").style("letter-spacing","1.3px")
  .attr("fill","#e8472e").text("NINJATRADER");
</script>
</body></html>
